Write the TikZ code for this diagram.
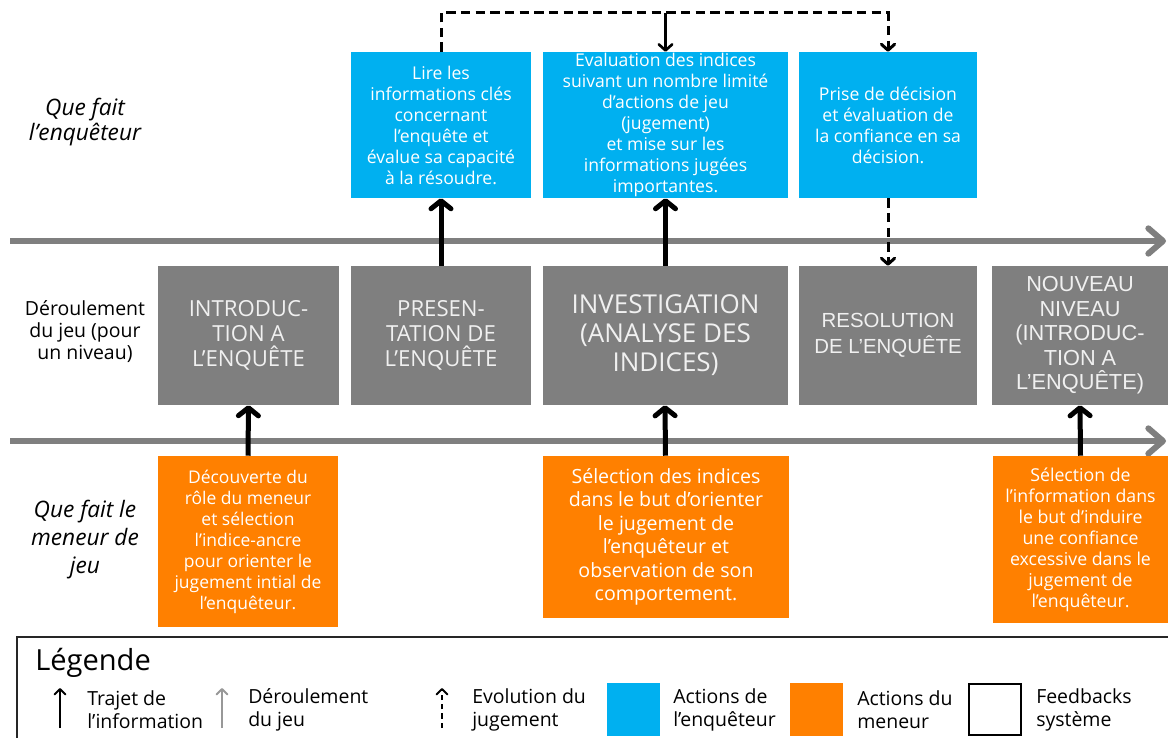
\documentclass[tikz,border=0pt]{standalone}
\usepackage{fontspec}
\setmainfont{Open Sans}
\newfontfamily\arialfont{Liberation Sans}
\usetikzlibrary{arrows.meta}
\definecolor{bleuenq}{HTML}{00B0F0}
\definecolor{orangemen}{HTML}{FF8000}
\definecolor{grisjeu}{HTML}{7F7F7F}
\tikzset{
  enq/.style={fill=bleuenq, text=white, align=center, inner sep=0pt, minimum height=109.5pt, font=\fontsize{13.2}{15.75}\selectfont},
  jeu/.style={fill=grisjeu, text=white!94!black, align=center, inner sep=0pt, minimum height=104.25pt, font=\fontsize{16.6}{18.75}\selectfont},
  men/.style={fill=orangemen, text=white, align=center, inner sep=0pt, font=\fontsize{13.1}{15.75}\selectfont},
  info/.style={line width=3.75pt, -{Straight Barb[round,length=6pt,width=15pt]}},
  juge/.style={line width=2.25pt, dash pattern=on 7pt off 4pt, -{Straight Barb[round,length=4.5pt,width=10pt]}},
  deroul/.style={draw=grisjeu, line width=4.5pt, -{Straight Barb[round,length=11pt,width=19pt]}},
  leg/.style={anchor=west, align=left, inner sep=0pt, font=\fontsize{14.6}{17.25}\selectfont},
  carre/.style={minimum size=39.75pt, inner sep=0pt}
}
\begin{document}
\begin{tikzpicture}[x=0.75pt,y=-0.75pt]
\clip (0,0) rectangle (1168,738);
\fill[white] (0,0) rectangle (1168,738);

\node[align=center, font=\fontsize{17}{18.75}\selectfont\itshape] (qenq) at (85,122) {Que fait\\l’enquêteur};
\node[align=center, font=\fontsize{14.6}{16.5}\selectfont] (qjeu) at (85,332) {Déroulement\\du jeu (pour\\un niveau)};
\node[align=center, font=\fontsize{17}{21}\selectfont\itshape] (qmen) at (85,540) {Que fait le\\meneur de\\jeu};

\coordinate (l1a) at (10,241);
\coordinate (l1b) at (1166,241);
\coordinate (l2a) at (10,441);
\coordinate (l2b) at (1166,441);
\draw[deroul] (l1a) -- (l1b);
\draw[deroul] (l2a) -- (l2b);

\node[enq, minimum width=135pt] (b1) at (441,125) {Lire les\\informations clés\\concernant\\l’enquête et\\évalue sa capacité\\à la résoudre.};
\node[enq, minimum width=183.75pt] (b2) at (665.5,125) {Evaluation des indices\\suivant un nombre limité\\d’actions de jeu\\(jugement)\\et mise sur les\\informations jugées\\importantes.};
\node[enq, minimum width=133.5pt] (b3) at (888,125) {Prise de décision\\et évaluation de\\la confiance en sa\\décision.};

\node[jeu, minimum width=135.75pt] (g1) at (248.5,335.5) {INTRODUC-\\TION A\\L'ENQUÊTE};
\node[jeu, minimum width=135pt] (g2) at (441,335.5) {PRESEN-\\TATION DE\\L’ENQUÊTE};
\node[jeu, minimum width=183.75pt, font=\fontsize{19.5}{21.75}\selectfont] (g3) at (665.5,335.5) {INVESTIGATION\\(ANALYSE DES\\INDICES)};
\node[jeu, minimum width=133.5pt, font=\arialfont\fontsize{15.3}{19.5}\selectfont] (g4) at (888,335.5) {RESOLUTION\\DE L’ENQUÊTE};
\node[jeu, minimum width=132pt, font=\arialfont\fontsize{16.3}{18.4}\selectfont] (g5) at (1080,335.5) {NOUVEAU\\NIVEAU\\(INTRODUC-\\TION A\\L’ENQUÊTE)};

\node[men, minimum width=135pt, minimum height=128.25pt] (o1) at (248,541.5) {Découverte du\\rôle du meneur\\et sélection\\l'indice-ancre\\pour orienter le\\jugement intial de\\l'enquêteur.};
\node[men, minimum width=184.5pt, minimum height=121.5pt, font=\fontsize{14.7}{17.6}\selectfont] (o2) at (666,537) {Sélection des indices\\dans le but d’orienter\\le jugement de\\l’enquêteur et\\observation de son\\comportement.};
\node[men, minimum width=131.25pt, minimum height=125.25pt, font=\fontsize{13.3}{15.75}\selectfont] (o3) at (1080.5,539.5) {Sélection de\\l’information dans\\le but d’induire\\une confiance\\excessive dans le\\jugement de\\l’enquêteur.};

\draw[info] (g2.north) -- (b1.south);
\draw[info] (g3.north) -- (b2.south);
\draw[info] (o1.north) -- (g1.south);
\draw[info] ([xshift=-0.375pt]o2.north) -- ([xshift=-0.375pt]g3.south);
\draw[info] (o3.north) -- (g5.south);
\draw[juge] (b3.south) -- (g4.north);

\coordinate (t2) at (665.5,13);
\draw[juge] (b1.north) |- (888,13) -- (b3.north);
\draw[line width=2pt, -{Straight Barb[round,length=4.5pt,width=10pt]}] (t2) -- (b2.north);

\draw[line width=1.2pt, draw=black!85] (17,637) rectangle (1180,750);
\node[anchor=west, inner sep=0pt, font=\fontsize{21.8}{24}\selectfont] (titre) at (35,663) {Légende};

\coordinate (la1) at (60,728);
\coordinate (la2) at (60,688);
\coordinate (lb1) at (222,728);
\coordinate (lb2) at (222,688);
\coordinate (lc1) at (442,728);
\coordinate (lc2) at (442,688);
\draw[line width=1.5pt, -{Straight Barb[round,length=4pt,width=8pt]}] (la1) -- (la2);
\draw[line width=1.5pt, grisjeu!80, -{Straight Barb[round,length=4pt,width=8pt]}] (lb1) -- (lb2);
\draw[line width=1.5pt, dash pattern=on 4pt off 3pt, -{Straight Barb[round,length=4pt,width=8pt]}] (lc1) -- (lc2);
\node[leg] (t1) at (87,709.5) {Trajet de\\l’information};
\node[leg] (t2) at (248,709.5) {Déroulement\\du jeu};
\node[leg] (t3) at (472,709.5) {Evolution du\\jugement};

\node[carre, fill=bleuenq] (cb) at (633.5,709.5) {};
\node[carre, fill=orangemen] (co) at (816.5,709.5) {};
\node[carre, draw=black, line width=1.5pt, minimum size=38.5pt] (cf) at (995,709.5) {};
\node[leg] (t4) at (673,709.5) {Actions de\\l’enquêteur};
\node[leg] (t5) at (857,709.5) {Actions du\\meneur};
\node[leg] (t6) at (1036,709.5) {Feedbacks\\système};
\end{tikzpicture}
\end{document}
